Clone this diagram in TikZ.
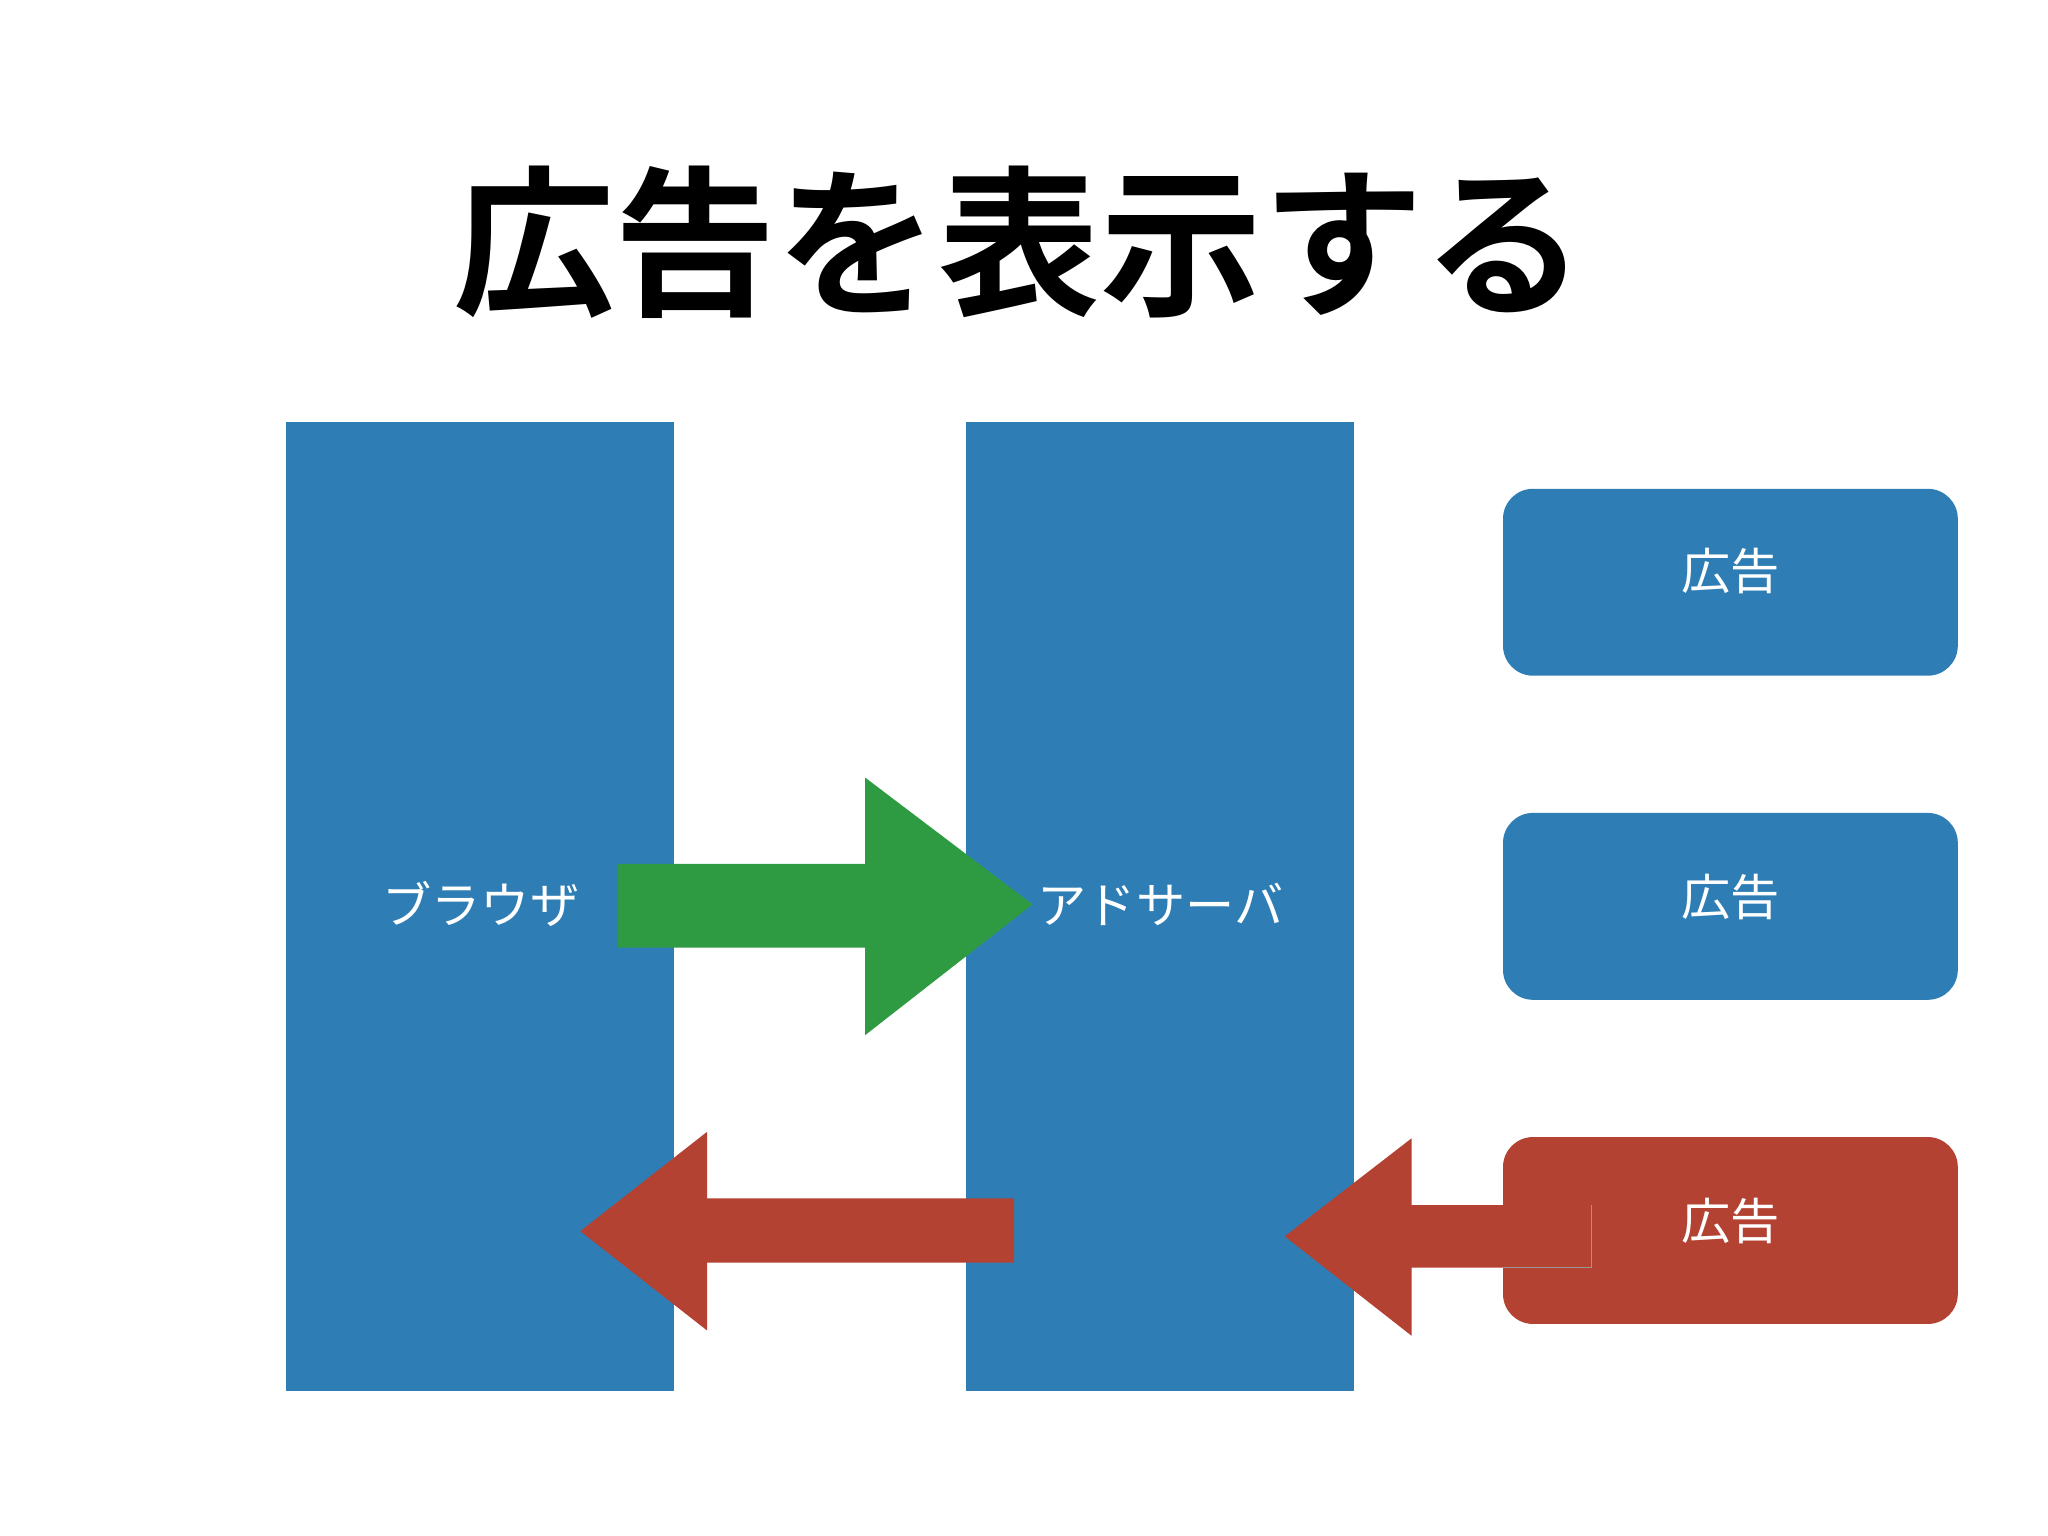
\documentclass[tikz,border=0pt]{standalone}
\usepackage{fontspec}
\newfontfamily\cjk{Noto Sans CJK JP}
\newfontfamily\cjkb{Noto Sans CJK JP Bold}
\definecolor{bl}{HTML}{2E7EB5}
\definecolor{rd}{HTML}{B34232}
\definecolor{gr}{HTML}{2E9B42}
\begin{document}
\begin{tikzpicture}[x=0.013069cm,y=-0.013069cm,
  col/.style={fill=bl,draw=none},
  ad/.style={rounded corners=0.3cm,draw=none},
  lbl/.style={text=white,font=\cjk\fontsize{14}{17}\selectfont}]
\useasboundingbox (0,0) rectangle (1567,1175);
\fill[white] (0,0) rectangle (1567,1175);
\node[font=\cjkb\fontsize{46}{55}\selectfont] (title) at (780,185) {広告を表示する};
\fill[col] (219,323) rectangle (516,1064);
\fill[col] (739,323) rectangle (1036,1064);
\node[lbl] (br) at (368,692) {ブラウザ};
\node[lbl] (as) at (888,692) {アドサーバ};
\fill[ad,fill=bl] (1150,374) rectangle (1498,517);
\fill[ad,fill=bl] (1150,622) rectangle (1498,765);
\fill[ad,fill=rd] (1150,870) rectangle (1498,1013);
\node[lbl] (a1) at (1324,437) {広告};
\node[lbl] (a2) at (1324,686) {広告};
\node[lbl] (a3) at (1324,934) {広告};
\fill[gr] (473,661) -- (662,661) -- (662,595) -- (790,692) -- (662,792) -- (662,725) -- (473,725) -- cycle;
\fill[rd] (776,917) -- (541,917) -- (541,866) -- (444,942) -- (541,1018) -- (541,966) -- (776,966) -- cycle;
\fill[rd] (1218,922) -- (1080,922) -- (1080,871) -- (983,946) -- (1080,1022) -- (1080,970) -- (1218,970) -- cycle;
\draw[black!40,line width=0.3pt] (1218,922) -- (1218,970) -- (1150,970);
\end{tikzpicture}
\end{document}
